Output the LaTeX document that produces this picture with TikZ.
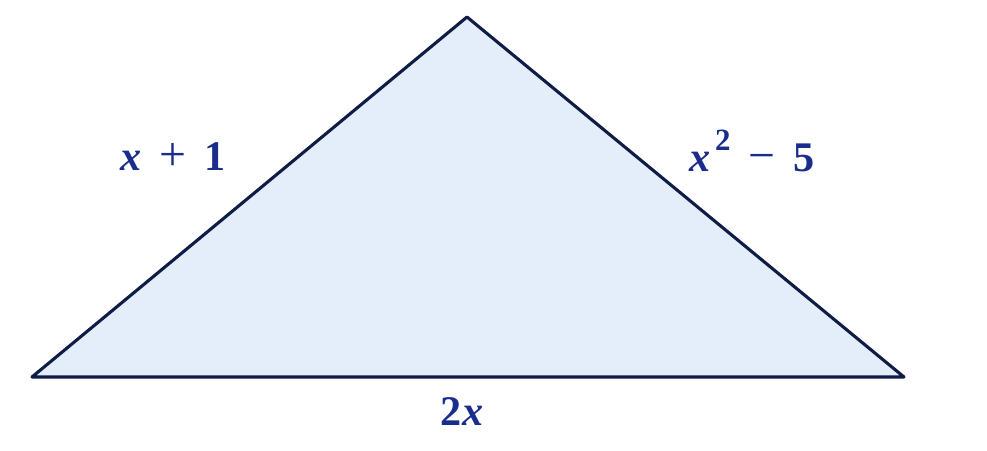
\documentclass[tikz,border=0pt]{standalone}
\usepackage{fontspec}
\usepackage{tikz}
\usetikzlibrary{calc}
\newfontfamily\labfont{Liberation Serif}
\definecolor{edgecol}{HTML}{0F1C45}
\definecolor{fillcol}{HTML}{E3EEFA}
\definecolor{labcol}{HTML}{1A2C8C}
\newcommand{\vx}{\textit{x}}
\newcommand{\opsign}[1]{\hspace{0.42em}{\mdseries\fontsize{34}{36}\selectfont #1}\hspace{0.42em}}
\begin{document}
\begin{tikzpicture}[x=0.025cm,y=0.025cm]
            \tikzset{lab/.style={text=labcol,font=\labfont\fontsize{30}{36}\selectfont\bfseries}}
            \useasboundingbox (0,0) rectangle (987,450);
            \coordinate (a) at (467,433);
            \coordinate (b) at (32,73);
            \coordinate (c) at (904,73);
            \fill[fillcol](a)--(b)--(c)--cycle;
            \draw[edgecol,line width=2.2pt,line join=round](a)--(b)--(c)--cycle;
            \node[lab] (ab) at (173,293) {\vx\opsign{+}1};
            \node[lab] (ac) at (752,299) {\vx\hspace{0.1em}\raisebox{0.5em}{\fontsize{22}{24}\selectfont 2}\opsign{−}5};
            \node[lab] (bc) at (462,38) {2\vx};
        \end{tikzpicture}
\end{document}
